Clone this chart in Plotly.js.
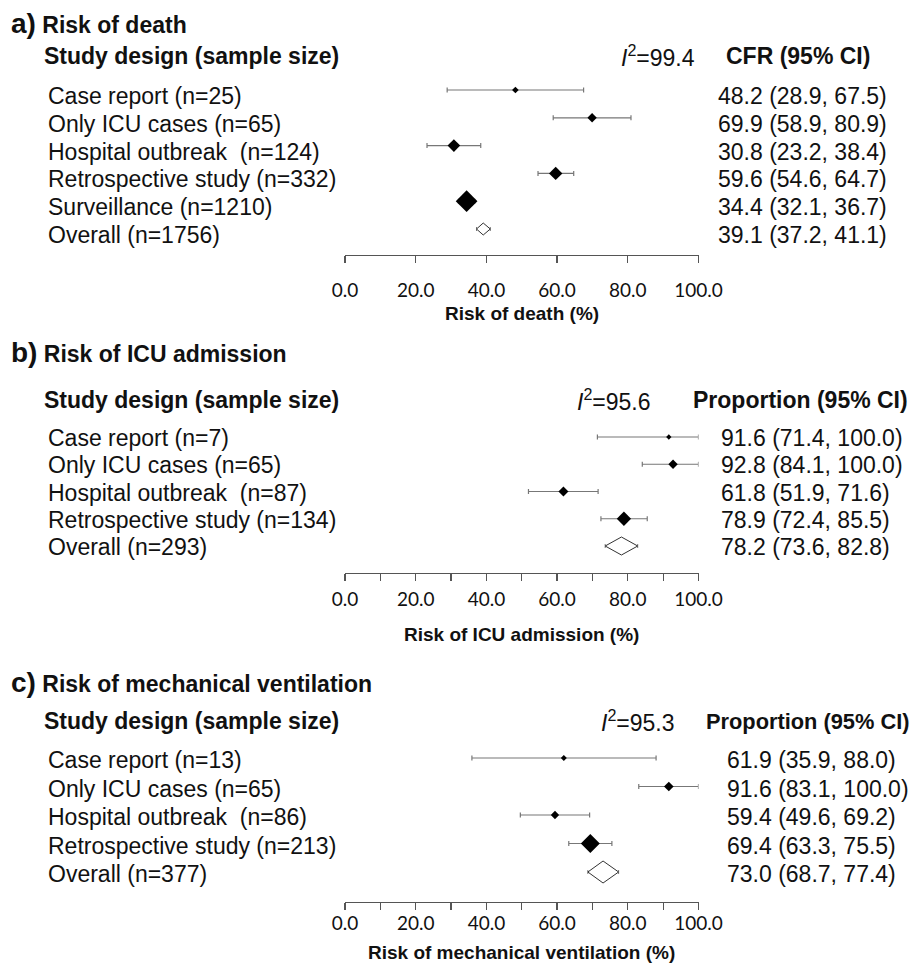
<!DOCTYPE html>
<html><head><meta charset="utf-8">
<script src="https://cdn.plot.ly/plotly-3.0.1.min.js"></script>
<style>html,body{margin:0;padding:0;background:#fff}#chart{width:922px;height:969px}</style>
</head><body><div id="chart"></div>
<script>
// ---------- Data: a) Risk of death ----------
const studyA = ["Case report (n=25)", "Only ICU cases (n=65)", "Hospital outbreak  (n=124)", "Retrospective study (n=332)", "Surveillance (n=1210)", "Overall (n=1756)"];
const estA = [48.2, 69.9, 30.8, 59.6, 34.4, 39.1];
const loA  = [28.9, 58.9, 23.2, 54.6, 32.1, 37.2];
const hiA  = [67.5, 80.9, 38.4, 64.7, 36.7, 41.1];
const i2A = 99.4;
// ---------- Data: b) Risk of ICU admission ----------
const studyB = ["Case report (n=7)", "Only ICU cases (n=65)", "Hospital outbreak  (n=87)", "Retrospective study (n=134)", "Overall (n=293)"];
const estB = [91.6, 92.8, 61.8, 78.9, 78.2];
const loB  = [71.4, 84.1, 51.9, 72.4, 73.6];
const hiB  = [100.0, 100.0, 71.6, 85.5, 82.8];
const i2B = 95.6;
// ---------- Data: c) Risk of mechanical ventilation ----------
const studyC = ["Case report (n=13)", "Only ICU cases (n=65)", "Hospital outbreak  (n=86)", "Retrospective study (n=213)", "Overall (n=377)"];
const estC = [61.9, 91.6, 59.4, 69.4, 73.0];
const loC  = [35.9, 83.1, 49.6, 63.3, 68.7];
const hiC  = [88.0, 100.0, 69.2, 75.5, 77.4];
const i2C = 95.3;

// ---------- Styles / layout (pixel based) ----------
const W = 922, H = 969;
const px = p => p / W;
const py = p => 1 - p / H;
const ARIAL = "Liberation Sans, Arial, sans-serif";
const TICKF = "Lato, Open Sans, sans-serif";
const TXT = "#111";
const FS = 23;

const panels = [
  {study: studyA, est: estA, lo: loA, hi: hiA, i2: i2A, letter: "a)", title: "Risk of death",
   header: "CFR (95% CI)", headFS: 23, axisTitle: "Risk of death (%)", sizes: [5.1, 7.2, 9.7, 10.3, 16.7],
   row0: 90, dRow: 27.8, axisPx: 255, topPx: 70, textShift: -6, diamH: 6,
   titleY: 23, headY: 56, i2X: 619, i2Y: 56, headX: 724, valX: 716, axTitleY: 313, standoff: 11, minor: false},
  {study: studyB, est: estB, lo: loB, hi: hiB, i2: i2B, letter: "b)", title: "Risk of ICU admission",
   header: "Proportion (95% CI)", headFS: 23, axisTitle: "Risk of ICU admission (%)", sizes: [4.1, 7.2, 7.7, 11],
   row0: 437, dRow: 27.25, axisPx: 573, topPx: 420, textShift: -1, diamH: 9,
   titleY: 352, headY: 400, i2X: 575, i2Y: 400, headX: 691, valX: 719, axTitleY: 634, standoff: 2, minor: true},
  {study: studyC, est: estC, lo: loC, hi: hiC, i2: i2C, letter: "c)", title: "Risk of mechanical ventilation",
   header: "Proportion (95% CI)", headFS: 21.8, axisTitle: "Risk of mechanical ventilation (%)", sizes: [4.6, 7.4, 6.4, 14.6],
   row0: 758, dRow: 28.5, axisPx: 902, topPx: 740, textShift: -2, diamH: 11,
   titleY: 682, headY: 721, i2X: 599, i2Y: 721, headX: 704, valX: 725, axTitleY: 952, standoff: -3, minor: true}
];

const traces = [];
const annotations = [];
const layout = {
  width: W, height: H, margin: {l: 0, r: 0, t: 0, b: 0},
  paper_bgcolor: "#fff", plot_bgcolor: "rgba(0,0,0,0)", showlegend: false,
  annotations: annotations
};

const fmt = v => v.toFixed(1);
const xDomain = [px(345), px(698.5)];

panels.forEach((p, k) => {
  const sfx = k === 0 ? "" : String(k + 1);
  const xa = "x" + sfx, ya = "y" + sfx;
  const n = p.study.length;
  const nStud = n - 1;
  const rows = p.study.map((_, i) => i);

  // y axis: reversed range so row i sits at row0 + i*dRow px
  const yBottom = (p.axisPx - p.row0) / p.dRow;
  const yTop = (p.topPx - p.row0) / p.dRow;
  layout["yaxis" + sfx] = {
    domain: [py(p.axisPx), py(p.topPx)], range: [yBottom, yTop],
    visible: false, fixedrange: true
  };
  const xaxis = {
    domain: xDomain, anchor: ya, range: [0, 100],
    showline: true, linecolor: "#555", linewidth: 1.2,
    ticks: "outside", ticklen: 7, tickwidth: 1.2, tickcolor: "#555",
    tick0: 0, dtick: 20, tickformat: ".1f",
    tickfont: {family: TICKF, size: 19, color: "#111"},
    ticklabelstandoff: p.standoff,
    showgrid: false, zeroline: false, fixedrange: true
  };
  if (p.minor) xaxis.minor = {dtick: 10, ticks: "outside", ticklen: 7, tickwidth: 1.2, tickcolor: "#555", showgrid: false};
  layout["xaxis" + sfx] = xaxis;

  // individual studies: diamond markers with CI whiskers
  traces.push({
    type: "scatter", mode: "markers", xaxis: xa, yaxis: ya,
    x: p.est.slice(0, nStud), y: rows.slice(0, nStud),
    marker: {symbol: "diamond", color: "#000", opacity: 1, size: p.sizes, line: {width: 0}},
    error_x: {type: "data", symmetric: false,
      array: p.hi.slice(0, nStud).map((h, i) => h - p.est[i]),
      arrayminus: p.lo.slice(0, nStud).map((l, i) => p.est[i] - l),
      color: "#777", thickness: 1.2, width: 2.5},
    hoverinfo: "skip"
  });
  // overall: whisker caps (line hidden beneath the diamond), then hollow diamond spanning CI
  const r = n - 1, e = p.est[r], lo = p.lo[r], hi = p.hi[r], h = p.diamH / p.dRow;
  traces.push({
    type: "scatter", mode: "markers", xaxis: xa, yaxis: ya,
    x: [e], y: [r], marker: {size: 1, color: "rgba(0,0,0,0)"},
    error_x: {type: "data", symmetric: false, array: [hi - e], arrayminus: [e - lo],
      color: "#777", thickness: 1, width: 2},
    hoverinfo: "skip"
  });
  traces.push({
    type: "scatter", mode: "lines", xaxis: xa, yaxis: ya,
    x: [lo, e, hi, e, lo], y: [r, r - h, r, r + h, r],
    fill: "toself", fillcolor: "#fff", line: {color: "#333", width: 1},
    hoverinfo: "skip"
  });

  // texts
  annotations.push({xref: "paper", yref: "paper", x: px(9), y: py(p.titleY), xanchor: "left", yanchor: "middle",
    showarrow: false, align: "left",
    text: "<b><span style='font-size:28px'>" + p.letter + "</span> " + p.title + "</b>",
    font: {family: ARIAL, size: FS, color: TXT}});
  annotations.push({xref: "paper", yref: "paper", x: px(42), y: py(p.headY), xanchor: "left", yanchor: "middle",
    showarrow: false, text: "<b>Study design (sample size)</b>", font: {family: ARIAL, size: FS, color: TXT}});
  annotations.push({xref: "paper", yref: "paper", x: px(p.i2X), y: py(p.i2Y), xanchor: "left", yanchor: "middle",
    showarrow: false, text: "<i>I</i><sup>2</sup>=" + fmt(p.i2), font: {family: ARIAL, size: FS, color: TXT}});
  annotations.push({xref: "paper", yref: "paper", x: px(p.headX), y: py(p.headY), xanchor: "left", yanchor: "middle",
    showarrow: false, text: "<b>" + p.header + "</b>", font: {family: ARIAL, size: p.headFS, color: TXT}});
  p.study.forEach((s, i) => {
    annotations.push({xref: "paper", yref: ya, x: px(46), y: i, yshift: p.textShift, xanchor: "left", yanchor: "middle",
      showarrow: false, text: s.replace(/  /g, "\u00a0 "), font: {family: ARIAL, size: FS, color: TXT}});
    annotations.push({xref: "paper", yref: ya, x: px(p.valX), y: i, yshift: p.textShift, xanchor: "left", yanchor: "middle",
      showarrow: false, text: fmt(p.est[i]) + " (" + fmt(p.lo[i]) + ", " + fmt(p.hi[i]) + ")",
      font: {family: ARIAL, size: FS, color: TXT}});
  });
  annotations.push({xref: "paper", yref: "paper", x: (xDomain[0] + xDomain[1]) / 2, y: py(p.axTitleY),
    xanchor: "center", yanchor: "middle", showarrow: false,
    text: "<b>" + p.axisTitle + "</b>", font: {family: ARIAL, size: 19, color: TXT}});
});

Plotly.newPlot("chart", traces, layout, {displayModeBar: false, staticPlot: true});
</script>
</body></html>
